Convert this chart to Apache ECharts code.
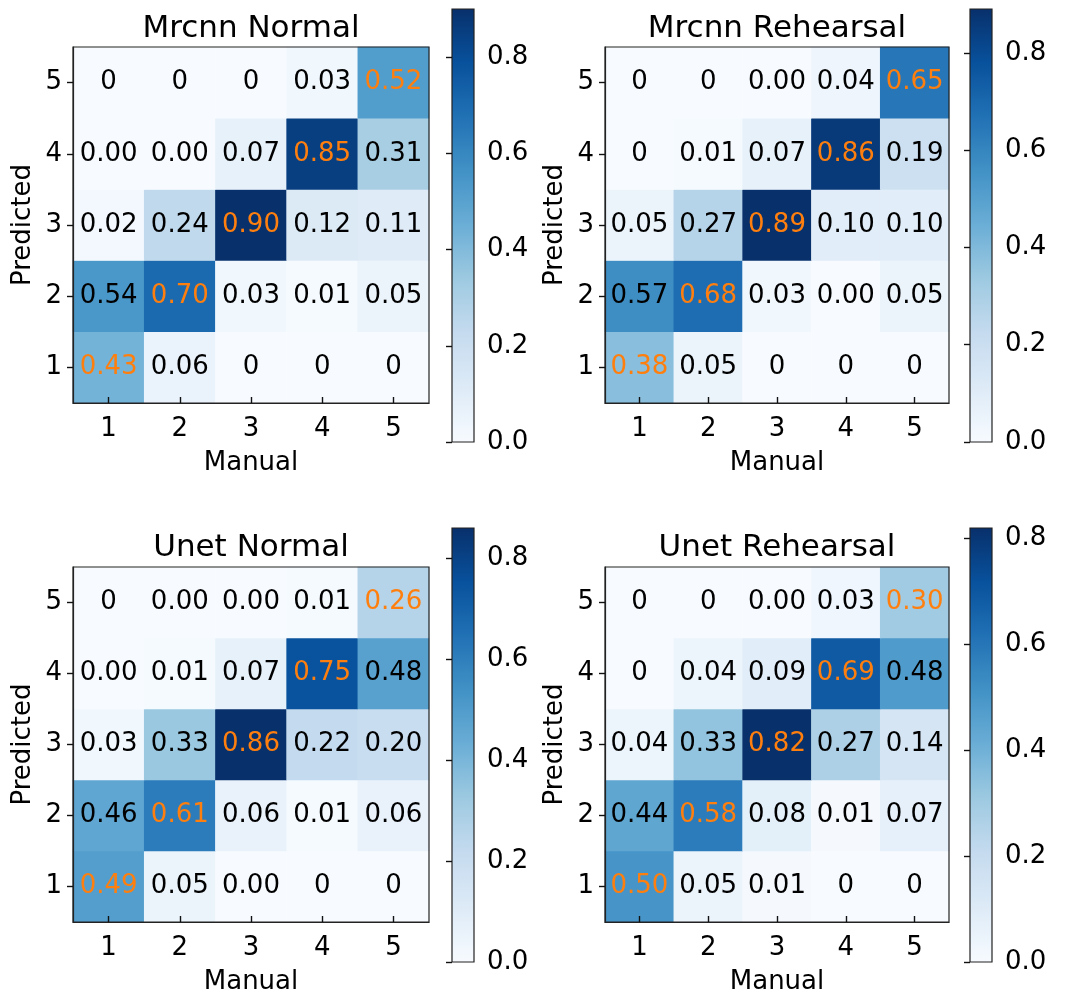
<!DOCTYPE html>
<html>
<head>
<meta charset="utf-8">
<script src="https://cdn.jsdelivr.net/npm/echarts@6/dist/echarts.min.js"></script>
<style>
  html, body { margin: 0; padding: 0; background: #fff; }
  #chart { width: 1070px; height: 996px; }
</style>
</head>
<body>
<div id="chart"></div>
<script>
// Class labels shared by both axes
const categories = ['1', '2', '3', '4', '5'];
// Colorbar tick range and step
const colorbarTickMax = 0.8;
const colorbarTickStep = 0.2;

// Confusion matrices: rows = Predicted 1..5, columns = Manual 1..5
// (0.002 marks a non-zero share that rounds to 0.00)
const mrcnnNormal = [
  [0.43, 0.06, 0, 0, 0],
  [0.54, 0.70, 0.03, 0.01, 0.05],
  [0.02, 0.24, 0.90, 0.12, 0.11],
  [0.002, 0.002, 0.07, 0.85, 0.31],
  [0, 0, 0, 0.03, 0.52]
];
const mrcnnRehearsal = [
  [0.38, 0.05, 0, 0, 0],
  [0.57, 0.68, 0.03, 0.002, 0.05],
  [0.05, 0.27, 0.89, 0.10, 0.10],
  [0, 0.01, 0.07, 0.86, 0.19],
  [0, 0, 0.002, 0.04, 0.65]
];
const unetNormal = [
  [0.49, 0.05, 0.002, 0, 0],
  [0.46, 0.61, 0.06, 0.01, 0.06],
  [0.03, 0.33, 0.86, 0.22, 0.20],
  [0.002, 0.01, 0.07, 0.75, 0.48],
  [0, 0.002, 0.002, 0.01, 0.26]
];
const unetRehearsal = [
  [0.50, 0.05, 0.01, 0, 0],
  [0.44, 0.58, 0.08, 0.01, 0.07],
  [0.04, 0.33, 0.82, 0.27, 0.14],
  [0, 0.04, 0.09, 0.69, 0.48],
  [0, 0, 0.002, 0.03, 0.30]
];

const titles = ['Mrcnn Normal', 'Mrcnn Rehearsal', 'Unet Normal', 'Unet Rehearsal'];
const matrices = [mrcnnNormal, mrcnnRehearsal, unetNormal, unetRehearsal];

// matplotlib "Blues" colormap stops
const BLUES = ['#f7fbff', '#deebf7', '#c6dbef', '#9ecae1', '#6baed6',
               '#4292c6', '#2171b5', '#08519c', '#08306b'];
const FONT = 'DejaVu Sans';
const FS = 26;
const DIAG_COLOR = '#ff7f0e';

// Panel placement
const layout = [
  { grid: { left: 73, top: 47, width: 356, height: 356 }, bar: { left: 452, top: 9, width: 22, height: 433 }, titleX: 251, titleTop: 13 },
  { grid: { left: 605, top: 47, width: 344, height: 356 }, bar: { left: 970, top: 9, width: 22, height: 433 }, titleX: 777, titleTop: 13 },
  { grid: { left: 73, top: 567, width: 356, height: 356 }, bar: { left: 452, top: 528, width: 22, height: 434 }, titleX: 251, titleTop: 532 },
  { grid: { left: 605, top: 567, width: 344, height: 356 }, bar: { left: 970, top: 528, width: 22, height: 434 }, titleX: 777, titleTop: 532 }
];

const option = {
  backgroundColor: '#fff',
  animation: false,
  textStyle: { fontFamily: FONT },
  title: [], grid: [], xAxis: [], yAxis: [], visualMap: [], series: []
};

const textStyle = { fontFamily: FONT, fontSize: FS, color: '#000' };
const axisLine = { show: true, lineStyle: { color: '#222', width: 1.2 } };
const tickLine = { color: '#111', width: 1.4 };
// ticks pointing away from the plot on the left axis
const tickLeft = { show: true, inside: false, length: 6, lineStyle: tickLine };
// ticks on the bottom / right axes, flipped so they also point away from the plot
const tickFlip = { show: true, inside: true, length: 6, lineStyle: tickLine };

matrices.forEach((m, i) => {
  const L = layout[i];
  const vmax = Math.max(...m.flat());
  const g = option.grid.length;

  option.title.push({
    text: titles[i], left: L.titleX, top: L.titleTop, textAlign: 'center', padding: 0,
    textStyle: { fontFamily: FONT, fontSize: 31, fontWeight: 'normal', color: '#000' }
  });

  // heatmap grid (border drawn above the cells)
  option.grid.push(Object.assign({
    show: true, z: 5, borderColor: '#222', borderWidth: 1.2, backgroundColor: 'rgba(0,0,0,0)'
  }, L.grid));
  // colorbar grid, filled with the colormap gradient
  option.grid.push(Object.assign({
    show: true, z: 1, borderColor: '#222', borderWidth: 1.2,
    backgroundColor: {
      type: 'linear', x: 0, y: 1, x2: 0, y2: 0,
      colorStops: BLUES.map((c, k) => ({ offset: k / (BLUES.length - 1), color: c }))
    }
  }, L.bar));
  // colorbar tick axis: covers 0 .. colorbarTickMax of the bar
  const tickH = L.bar.height * colorbarTickMax / vmax;
  option.grid.push({
    show: false, left: L.bar.left, width: L.bar.width,
    top: L.bar.top + L.bar.height - tickH, height: tickH
  });

  const xi = option.xAxis.length;
  option.xAxis.push({
    type: 'category', gridIndex: g, data: categories, position: 'bottom', z: 10,
    axisLine: axisLine,
    axisTick: Object.assign({ alignWithLabel: true }, tickFlip),
    axisLabel: Object.assign({ margin: 13 }, textStyle),
    splitLine: { show: false },
    name: 'Manual', nameLocation: 'middle', nameGap: 47, nameTextStyle: textStyle
  });
  option.xAxis.push({ type: 'value', gridIndex: g + 1, show: false, min: 0, max: 1 });
  option.xAxis.push({ type: 'value', gridIndex: g + 2, show: false, min: 0, max: 1 });

  const yi = option.yAxis.length;
  option.yAxis.push({
    type: 'category', gridIndex: g, data: categories, position: 'left', z: 10,
    axisLine: axisLine,
    axisTick: Object.assign({ alignWithLabel: true }, tickLeft),
    axisLabel: Object.assign({ margin: 11 }, textStyle),
    splitLine: { show: false },
    name: 'Predicted', nameLocation: 'middle', nameGap: 37, nameRotate: 90, nameTextStyle: textStyle
  });
  option.yAxis.push({ type: 'value', gridIndex: g + 1, show: false, min: 0, max: vmax });
  option.yAxis.push({
    type: 'value', gridIndex: g + 2, position: 'right', z: 10,
    min: 0, max: colorbarTickMax, interval: colorbarTickStep,
    axisLine: { show: false },
    axisTick: tickFlip,
    axisLabel: Object.assign({ margin: 13, formatter: v => v.toFixed(1) }, textStyle),
    splitLine: { show: false }
  });

  const data = [];
  m.forEach((row, r) => row.forEach((v, c) => {
    data.push({ value: [c, r, v], label: { color: r === c ? DIAG_COLOR : '#000' } });
  }));

  option.visualMap.push({
    type: 'continuous', show: false, min: 0, max: vmax, seriesIndex: i, dimension: 2,
    inRange: { color: BLUES }
  });

  option.series.push({
    type: 'heatmap', xAxisIndex: xi, yAxisIndex: yi, data: data,
    itemStyle: { borderWidth: 0 },
    label: {
      show: true, fontFamily: FONT, fontSize: FS,
      formatter: p => (p.value[2] === 0 ? '0' : p.value[2].toFixed(2))
    },
    emphasis: { disabled: true }
  });
});

const chart = echarts.init(document.getElementById('chart'), null, { renderer: 'canvas' });
chart.setOption(option);
</script>
</body>
</html>
